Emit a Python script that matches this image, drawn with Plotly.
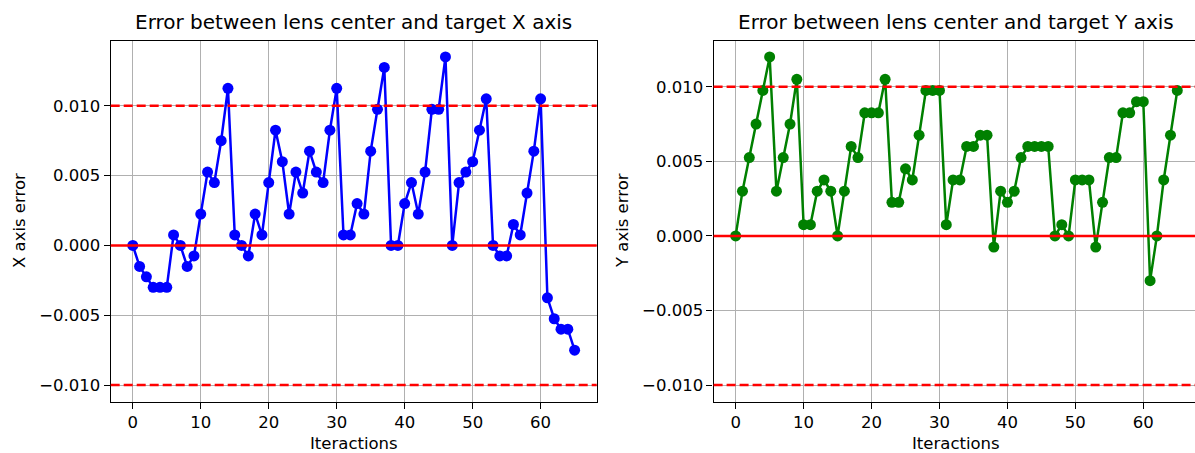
import plotly.graph_objects as go

# Iteration index and per-iteration alignment error (in units of 1e-3)
iterations = list(range(66))

x_error_milli = [
    0, -1.5, -2.25, -3, -3, -3, 0.75, 0, -1.5, -0.75,
    2.25, 5.25, 4.5, 7.5, 11.25, 0.75, 0, -0.75, 2.25, 0.75,
    4.5, 8.25, 6.0, 2.25, 5.25, 3.75, 6.75, 5.25, 4.5, 8.25,
    11.25, 0.75, 0.75, 3.0, 2.25, 6.75, 9.75, 12.75, 0, 0,
    3.0, 4.5, 2.25, 5.25, 9.75, 9.75, 13.5, 0, 4.5, 5.25,
    6.0, 8.25, 10.5, 0, -0.75, -0.75, 1.5, 0.75, 3.75, 6.75,
    10.5, -3.75, -5.25, -6.0, -6.0, -7.5,
]

y_error_milli = [
    0, 3.0, 5.25, 7.5, 9.75, 12.0, 3.0, 5.25, 7.5, 10.5,
    0.75, 0.75, 3.0, 3.75, 3.0, 0, 3.0, 6.0, 5.25, 8.25,
    8.25, 8.25, 10.5, 2.25, 2.25, 4.5, 3.75, 6.75, 9.75, 9.75,
    9.75, 0.75, 3.75, 3.75, 6.0, 6.0, 6.75, 6.75, -0.75, 3.0,
    2.25, 3.0, 5.25, 6.0, 6.0, 6.0, 6.0, 0, 0.75, 0,
    3.75, 3.75, 3.75, -0.75, 2.25, 5.25, 5.25, 8.25, 8.25, 9.0,
    9.0, -3.0, 0, 3.75, 6.75, 9.75,
]

x_error = [v / 1000 for v in x_error_milli]
y_error = [v / 1000 for v in y_error_milli]

tolerance = 0.01
x_ticks = [0, 10, 20, 30, 40, 50, 60]
y_ticks = [-0.010, -0.005, 0.0, 0.005, 0.010]
y_tick_text = ["\u22120.010", "\u22120.005", "0.000", "0.005", "0.010"]

W, H = 1195, 453
FONT = "DejaVu Sans"
TICK_SIZE = 16.5

fig = go.Figure()

fig.add_trace(go.Scatter(
    x=iterations, y=x_error, mode="lines+markers",
    line=dict(color="#0000ff", width=2.5),
    marker=dict(color="#0000ff", size=11),
    xaxis="x", yaxis="y", showlegend=False,
))
fig.add_trace(go.Scatter(
    x=iterations, y=y_error, mode="lines+markers",
    line=dict(color="#008000", width=2.5),
    marker=dict(color="#008000", size=11),
    xaxis="x2", yaxis="y2", showlegend=False,
))

# Zero reference and tolerance limits, drawn over the data
shapes = []
for xr, yr in (("x domain", "y"), ("x2 domain", "y2")):
    shapes.append(dict(type="line", xref=xr, yref=yr, x0=0, x1=1, y0=0, y1=0,
                       line=dict(color="#ff0000", width=2.5), layer="above"))
    for lim in (tolerance, -tolerance):
        shapes.append(dict(type="line", xref=xr, yref=yr, x0=0, x1=1, y0=lim, y1=lim,
                           line=dict(color="#ff0000", width=2.5, dash="9px,4px"),
                           layer="above"))

top_px, bottom_px = 40.5, 401.5
ydom = [1 - bottom_px / H, 1 - top_px / H]
left_dom = [110.7 / W, 596.7 / W]
right_dom = [713.6 / W, 1.0]


def xaxis_style(dom, rng, anchor, mirror):
    return dict(
        domain=dom, range=rng, anchor=anchor,
        tickvals=x_ticks, ticks="outside", ticklen=6, tickwidth=1.3, tickcolor="black",
        showline=True, linecolor="black", linewidth=1.3, mirror=mirror,
        showgrid=True, gridcolor="#b0b0b0", gridwidth=1.3, zeroline=False,
        tickfont=dict(family=FONT, size=TICK_SIZE, color="black"),
    )


def yaxis_style(rng, anchor, mirror):
    return dict(
        domain=ydom, range=rng, anchor=anchor,
        tickvals=y_ticks, ticktext=y_tick_text,
        ticks="outside", ticklen=6, tickwidth=1.3, tickcolor="black",
        showline=True, linecolor="black", linewidth=1.3, mirror=mirror,
        showgrid=True, gridcolor="#b0b0b0", gridwidth=1.3, zeroline=False,
        tickfont=dict(family=FONT, size=TICK_SIZE, color="black"),
    )


def label(text, x, y, size, angle=0):
    return dict(text=text, x=x / W, y=1 - y / H, xref="paper", yref="paper",
                showarrow=False, textangle=angle, xanchor="center", yanchor="middle",
                font=dict(family=FONT, size=size, color="black"))


left_cx = (110.7 + 596.7) / 2
right_cx = (713.6 + 1199) / 2
mid_y = (top_px + bottom_px) / 2

fig.update_layout(
    width=W, height=H,
    margin=dict(l=0, r=0, t=0, b=0),
    paper_bgcolor="white", plot_bgcolor="white",
    xaxis=xaxis_style(left_dom, [-3.25, 68.25], "y", True),
    yaxis=yaxis_style([-0.011175, 0.014675], "x", True),
    xaxis2=xaxis_style(right_dom, [-3.25, 67.61], "y2", True),
    yaxis2=yaxis_style([-0.0111, 0.0131], "x2", False),
    shapes=shapes,
    annotations=[
        label("Error between lens center and target X axis", left_cx, 22, 20),
        label("Error between lens center and target Y axis", right_cx, 22, 20),
        label("Iteractions", left_cx, 443, TICK_SIZE),
        label("Iteractions", right_cx, 443, TICK_SIZE),
        label("X axis error", 19, mid_y, TICK_SIZE, -90),
        label("Y axis error", 622, mid_y, TICK_SIZE, -90),
    ],
)

fig.write_html("out.html")
